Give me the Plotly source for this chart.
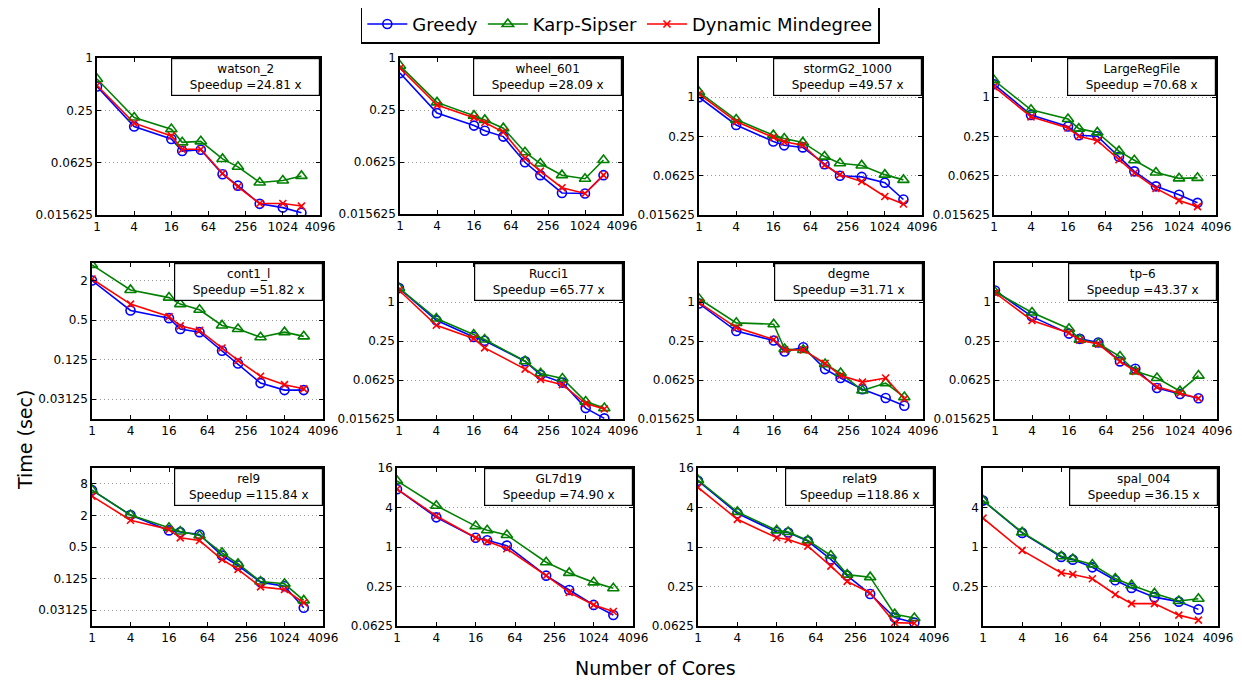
import plotly.graph_objects as go
import math

# page is 1242x684; plotly div sits inside the default 8px body margin
OFF = 8
FW, FH = 1242 - OFF, 684 - OFF


def fx(px):
    return (px - OFF) / FW


def fy(py):
    return 1 - (py - OFF) / FH


CORES = [1, 4, 16, 24, 48, 108, 192, 432, 1024, 2048]
X_TICKS = [1, 4, 16, 64, 256, 1024, 4096]

NAMES = ["watson_2", "wheel_601", "stormG2_1000", "LargeRegFile",
         "cont1_l", "Rucci1", "degme", "tp\u20136",
         "rel9", "GL7d19", "relat9", "spal_004"]
SPEEDUPS = ["24.81", "28.09", "49.57", "70.68",
            "51.82", "65.77", "31.71", "43.37",
            "115.84", "74.90", "118.86", "36.15"]

# Time (sec) per dataset: Greedy, Karp-Sipser, Dynamic Mindegree
watson_greedy = [0.470, 0.163, 0.117, 0.085, 0.088, 0.046, 0.034, 0.021, 0.019, 0.0166]
watson_ks     = [0.574, 0.207, 0.152, 0.107, 0.110, 0.069, 0.056, 0.037, 0.039, 0.044]
watson_dm     = [0.483, 0.178, 0.127, 0.089, 0.089, 0.047, 0.033, 0.0212, 0.0212, 0.0198]

wheel_greedy = [0.669, 0.230, 0.165, 0.144, 0.123, 0.062, 0.044, 0.0274, 0.027, 0.044]
wheel_ks     = [0.812, 0.306, 0.215, 0.192, 0.154, 0.081, 0.060, 0.044, 0.040, 0.066]
wheel_dm     = [0.763, 0.285, 0.204, 0.179, 0.139, 0.069, 0.049, 0.0315, 0.027, 0.044]

storm_greedy = [1.0, 0.376, 0.210, 0.183, 0.170, 0.094, 0.0625, 0.060, 0.049, 0.027]
storm_ks     = [1.20, 0.454, 0.262, 0.233, 0.203, 0.123, 0.097, 0.090, 0.065, 0.054]
storm_dm     = [1.125, 0.423, 0.243, 0.207, 0.184, 0.091, 0.065, 0.051, 0.030, 0.023]

lrf_greedy = [1.58, 0.536, 0.356, 0.261, 0.252, 0.122, 0.073, 0.043, 0.032, 0.024]
lrf_ks     = [1.82, 0.642, 0.463, 0.330, 0.289, 0.149, 0.108, 0.070, 0.057, 0.058]
lrf_dm     = [1.45, 0.50, 0.337, 0.252, 0.216, 0.110, 0.069, 0.040, 0.026, 0.021]

cont_greedy = [2.0, 0.702, 0.536, 0.366, 0.328, 0.171, 0.109, 0.055, 0.043, 0.043]
cont_ks     = [3.46, 1.44, 1.10, 0.877, 0.717, 0.415, 0.366, 0.274, 0.328, 0.283]
cont_dm     = [2.11, 0.877, 0.566, 0.409, 0.349, 0.188, 0.122, 0.070, 0.052, 0.045]

rucci_greedy = [1.64, 0.521, 0.289, 0.252, None, 0.122, 0.075, 0.057, 0.0230, 0.016]
rucci_ks     = [1.64, 0.555, 0.314, 0.264, None, 0.122, 0.079, 0.066, 0.029, 0.0230]
rucci_dm     = [1.52, 0.438, 0.274, 0.196, None, 0.092, 0.064, 0.053, 0.027, 0.0223]

degme_greedy = [0.946, 0.356, 0.254, 0.172, 0.200, 0.092, 0.067, 0.045, 0.033, 0.025]
degme_ks     = [1.125, 0.476, 0.454, 0.188, 0.182, 0.110, 0.080, 0.043, 0.056, 0.034]
degme_dm     = [0.98, 0.403, 0.264, 0.182, 0.182, 0.113, 0.073, 0.058, 0.067, 0.032]

tp6_greedy = [1.505, 0.595, 0.325, 0.270, 0.237, 0.121, 0.093, 0.047, 0.038, 0.0326]
tp6_ks     = [1.43, 0.688, 0.387, 0.262, 0.228, 0.144, 0.085, 0.067, 0.042, 0.073]
tp6_dm     = [1.385, 0.518, 0.332, 0.257, 0.224, 0.121, 0.085, 0.049, 0.039, 0.0326]

rel9_greedy = [6.06, 2.03, 1.035, 0.959, 0.865, 0.344, 0.222, 0.107, 0.0896, 0.0347]
rel9_ks     = [6.06, 2.03, 1.165, 0.986, 0.829, 0.387, 0.240, 0.110, 0.0995, 0.048]
rel9_dm     = [4.66, 1.62, 1.08, 0.747, 0.664, 0.289, 0.187, 0.087, 0.0775, 0.0433]

gl7_greedy = [7.62, 2.83, 1.38, 1.27, 1.05, None, 0.366, 0.221, 0.131, 0.092]
gl7_ks     = [10.2, 4.26, 2.08, 1.80, 1.52, None, 0.586, 0.403, 0.289, 0.235]
gl7_dm     = [7.62, 2.97, 1.38, 1.22, 0.94, None, 0.366, 0.203, 0.131, 0.104]

relat9_greedy = [10.2, 3.27, 1.69, 1.66, 1.23, 0.646, 0.366, 0.192, 0.0842, 0.0703]
relat9_ks     = [10.5, 3.43, 1.79, 1.69, 1.26, 0.743, 0.379, 0.347, 0.0947, 0.0825]
relat9_dm     = [8.11, 2.64, 1.385, 1.30, 1.03, 0.511, 0.299, 0.199, 0.0703, 0.0688]

spal_greedy = [5.10, 1.64, 0.707, 0.642, 0.490, 0.312, 0.238, 0.172, 0.147, 0.112]
spal_ks     = [5.10, 1.67, 0.722, 0.656, 0.540, 0.330, 0.262, 0.196, 0.150, 0.163]
spal_dm     = [2.75, 0.889, 0.403, 0.382, 0.328, 0.189, 0.137, 0.137, 0.0915, 0.077]

GREEDY = [watson_greedy, wheel_greedy, storm_greedy, lrf_greedy, cont_greedy, rucci_greedy,
          degme_greedy, tp6_greedy, rel9_greedy, gl7_greedy, relat9_greedy, spal_greedy]
KS = [watson_ks, wheel_ks, storm_ks, lrf_ks, cont_ks, rucci_ks,
      degme_ks, tp6_ks, rel9_ks, gl7_ks, relat9_ks, spal_ks]
DM = [watson_dm, wheel_dm, storm_dm, lrf_dm, cont_dm, rucci_dm,
      degme_dm, tp6_dm, rel9_dm, gl7_dm, relat9_dm, spal_dm]

# y-axis limits (seconds) and tick values per panel
Y_LIMITS = [(0.015625, 1), (0.015625, 1), (0.015625, 4), (0.015625, 4),
            (0.015625, 3.7), (0.015625, 4), (0.015625, 4), (0.015625, 4),
            (0.015625, 16), (0.0625, 16), (0.0625, 16), (0.0625, 16)]
T1 = [0.015625, 0.0625, 0.25, 1]
T2 = [0.03125, 0.125, 0.5, 2]
Y_TICKS = [T1, T1, T1, T1, T2, T1, T1, T1,
           [0.03125, 0.125, 0.5, 2, 8], [0.0625, 0.25, 1, 4, 16],
           [0.0625, 0.25, 1, 4, 16], [0.25, 1, 4]]

# panel boxes in page pixels: (left, right, top, bottom)
BOXES = [(97, 320, 58, 215), (400, 622, 58, 214), (699, 922, 58, 215), (994, 1216, 58, 215),
         (92, 323, 263, 419), (399, 623, 263, 419), (699, 923, 263, 419), (995, 1217, 263, 419),
         (92, 323, 468, 626), (397, 633, 468, 626), (698, 934, 468, 626), (983, 1218, 468, 626)]

SERIES = [("Greedy", "#0000ff", "circle-open", GREEDY, 9),
          ("Karp-Sipser", "#008000", "triangle-up-open", KS, 10),
          ("Dynamic Mindegree", "#ff0000", "x-thin-open", DM, 7)]

fig = go.Figure()
FONT = "DejaVu Sans"

annotations = []
for i in range(12):
    n = i + 1
    xa = "x" if n == 1 else f"x{n}"
    ya = "y" if n == 1 else f"y{n}"
    for name, color, sym, data, msize in SERIES:
        fig.add_trace(go.Scatter(
            x=CORES, y=data[i], mode="lines+markers", name=name,
            xaxis=xa, yaxis=ya, connectgaps=True, showlegend=(i == 0),
            line=dict(color=color, width=1.6),
            marker=dict(symbol=sym, size=msize, color=color,
                        line=dict(color=color, width=1.6)),
        ))
    l, r, t, b = BOXES[i]
    xkey = "xaxis" if n == 1 else f"xaxis{n}"
    ykey = "yaxis" if n == 1 else f"yaxis{n}"
    lo, hi = Y_LIMITS[i]
    fig.update_layout(**{
        xkey: dict(domain=[fx(l), fx(r)], anchor=ya, type="log", automargin=False,
                   range=[0, math.log10(4096)], tickvals=X_TICKS,
                   ticktext=[str(v) for v in X_TICKS],
                   showgrid=False, zeroline=False, showline=True, linecolor="black",
                   linewidth=1.5, mirror="ticks", ticks="inside", ticklen=4,
                   tickcolor="black", tickfont=dict(family=FONT, size=12, color="black")),
        ykey: dict(domain=[fy(b), fy(t)], anchor=xa, type="log", automargin=False,
                   range=[math.log10(lo), math.log10(hi)], tickvals=Y_TICKS[i],
                   ticktext=[f"{v:g}" for v in Y_TICKS[i]],
                   showgrid=True, gridcolor="#999999", griddash="1px,3px", gridwidth=1,
                   zeroline=False, showline=True, linecolor="black", linewidth=1.5,
                   mirror="ticks", ticks="inside", ticklen=4, tickcolor="black",
                   tickfont=dict(family=FONT, size=12, color="black")),
    })
    annotations.append(dict(
        xref=f"{xa} domain", yref=f"{ya} domain", x=1, y=1,
        xanchor="right", yanchor="top", showarrow=False, align="center",
        text=f"{NAMES[i]}<br>Speedup ={SPEEDUPS[i]} x",
        font=dict(family=FONT, size=12, color="black"),
        bgcolor="white", bordercolor="black", borderwidth=1.2, borderpad=2,
        width=143, height=32,
    ))

annotations.append(dict(xref="paper", yref="paper", x=fx(25), y=fy(440),
                        text="Time (sec)", textangle=-90, showarrow=False,
                        font=dict(family=FONT, size=19, color="black"),
                        xanchor="center", yanchor="middle"))
annotations.append(dict(xref="paper", yref="paper", x=fx(655), y=fy(668),
                        text="Number of Cores", showarrow=False,
                        font=dict(family=FONT, size=19, color="black"),
                        xanchor="center", yanchor="middle"))

fig.update_layout(
    width=FW, height=FH, margin=dict(l=0, r=0, t=0, b=0, autoexpand=False),
    paper_bgcolor="white", plot_bgcolor="white",
    annotations=annotations,
    legend=dict(orientation="h", x=fx(620), xanchor="center", y=fy(4), yanchor="top",
                bordercolor="black", borderwidth=1.8, bgcolor="white",
                font=dict(family=FONT, size=18, color="black"), itemwidth=40,
                tracegroupgap=0),
    showlegend=True,
)

fig.write_html("out.html")
